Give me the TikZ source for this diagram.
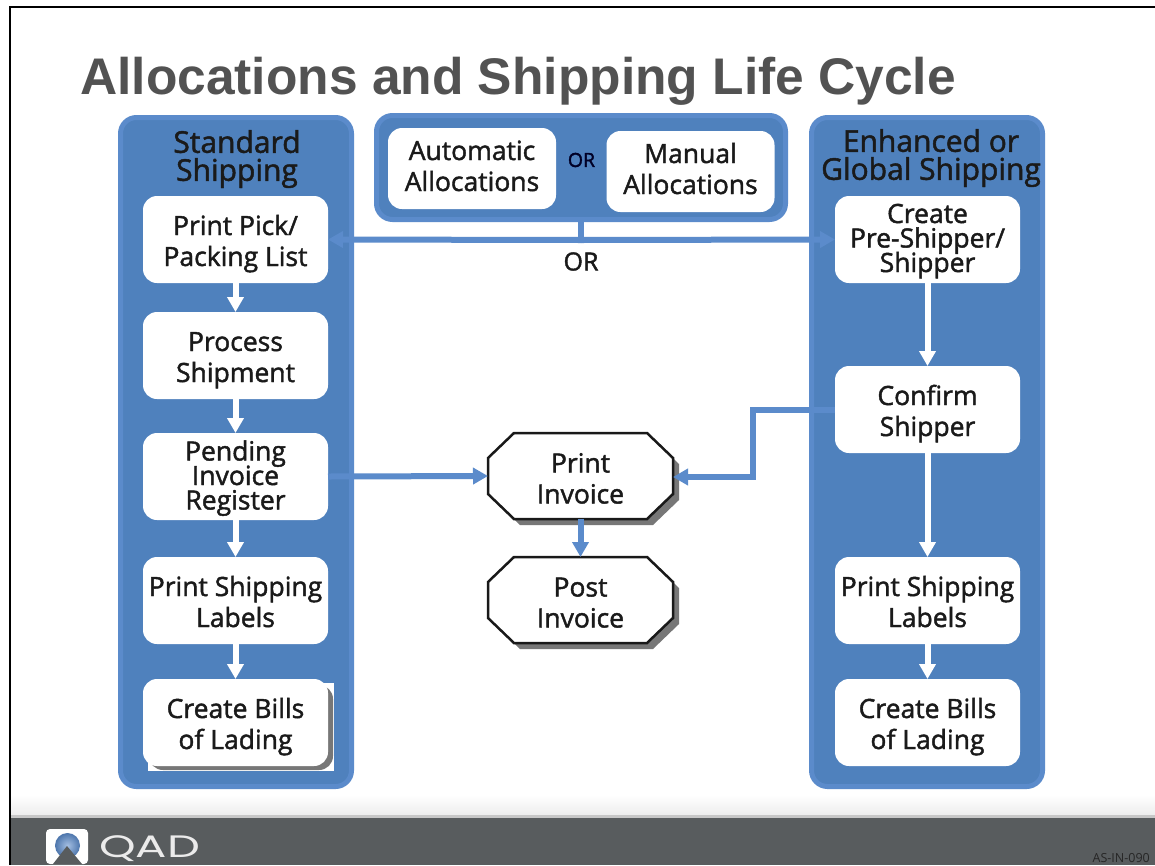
\documentclass[tikz,border=0pt]{standalone}
\usepackage{fontspec}
\usetikzlibrary{arrows.meta}
\setmainfont[FakeBold=1.6]{Open Sans}
\newfontfamily\plainfont{Open Sans}
\newfontfamily\titlefont{Liberation Sans}
\newfontfamily\logofont{Poppins}
\definecolor{panelblue}{HTML}{4F81BD}
\definecolor{edgeblue}{HTML}{5B8BCB}
\definecolor{barcol}{HTML}{585C5E}
\definecolor{inkcol}{HTML}{1A1A1A}
\definecolor{shadowgrey}{HTML}{777777}
\setlength{\normallineskiplimit}{-20pt}
\setlength{\lineskiplimit}{-20pt}
\newcommand{\hgt}[1]{\rule{0pt}{#1pt}}
\newcommand{\octapath}{(-66.5,-43) -- (66.5,-43) -- (92.5,-18) -- (92.5,18) -- (66.5,43) -- (-66.5,43) -- (-92.5,18) -- (-92.5,-18) -- cycle}
\newcommand{\octashape}[2]{%
  \begin{scope}[shift={(#1,#2)}]
    \fill[shadowgrey,shift={(6,6)}] \octapath;
    \draw[octaline] \octapath;
  \end{scope}}
\tikzset{
  x=1pt,y=-1pt,
  panel/.style={draw=edgeblue,fill=panelblue,line width=5pt,rounded corners=16pt,inner sep=0pt,outer sep=0pt},
  boxtext/.style={align=center,text=inkcol,inner sep=0pt,outer sep=0pt,font=\fontsize{26.5}{31}\selectfont,
    execute at end node={\rule[-8pt]{0pt}{0pt}}},
  whitebox/.style={boxtext,fill=white,rounded corners=14pt,minimum width=185pt,minimum height=87pt},
  tight/.style={font=\fontsize{26.5}{24.5}\selectfont},
  allocbox/.style={whitebox,minimum width=168pt,minimum height=81pt},
  octaline/.style={draw=black!90,fill=white,line width=2.5pt,line join=miter},
  octa/.style={boxtext,minimum width=185pt,minimum height=86pt},
  head/.style={align=center,text=inkcol,inner sep=0pt,font=\fontsize{30}{28}\selectfont},
  flowarrow/.style={line width=6pt,-{Triangle[width=16pt,length=15pt]}},
  whitearrow/.style={flowarrow,draw=white},
  bluearrow/.style={flowarrow,draw=edgeblue},
  blueline/.style={line width=6pt,draw=edgeblue},
}
\begin{document}
\begin{tikzpicture}
\useasboundingbox (0,0) rectangle (1155,865);
\fill[white] (0,0) rectangle (1155,865);
% footer
\shade[top color=white,bottom color=black!7] (11,795) rectangle (1155,815);
\fill[black!22] (11,815) rectangle (1155,818);
\fill[barcol] (11,818) rectangle (1155,865);
% frame
\draw[black,line width=2pt] (10,865) -- (10,7) -- (1155,7);
% logo
\fill[white,rounded corners=4pt] (46,829) rectangle (88,864);
\shade[inner color=edgeblue!55!white,outer color=edgeblue!85!black] (67.5,845.5) circle (12.5);
\fill[barcol] (53,864) -- (67,846) -- (82,864) -- cycle;
\node[inner sep=0pt,text=black!8,xscale=1.5,font=\logofont\fontsize{31}{31}\selectfont,anchor=base west] (logotext) at (99,857) {QAD};
\node[inner sep=0pt,text=black!85,font=\plainfont\fontsize{12.5}{13}\selectfont,anchor=base east] (code) at (1150,862) {AS-IN-090};
% title
\node[inner sep=0pt,anchor=base west,text=black!68,font=\titlefont\bfseries\fontsize{51.5}{52}\selectfont] (title) at (80,94) {Allocations and Shipping Life Cycle};
% panels
\node[panel,minimum width=231pt,minimum height=669pt] (leftpanel) at (236,452) {};
\node[panel,minimum width=231pt,minimum height=669pt] (rightpanel) at (927,452) {};
\node[panel,minimum width=409pt,minimum height=104pt] (toppanel) at (581,167.5) {};
\node[head] (lefthead) at (237,159) {Standard\\Shipping};
\node[head] (righthead) at (931,158) {Enhanced or\\Global Shipping};
% allocation boxes
\node[allocbox] (auto) at (472,168.5) {\hgt{22}Automatic\\Allocations};
\node[allocbox] (manual) at (690.5,171.5) {\hgt{22}Manual\\Allocations};
\node[inner sep=0pt,text=black!85!blue,font=\fontsize{19.5}{20}\selectfont] (orsmall) at (581.5,160) {OR};
% left column
\node[whitebox] (pick) at (235.5,239.5) {\hgt{30}Print Pick/\\Packing List};
\node[whitebox] (process) at (235.5,355.5) {\hgt{30}Process\\Shipment};
\node[whitebox,tight] (pending) at (235.5,476.5) {\hgt{25}Pending\\Invoice\\Register};
\node[whitebox] (labelsL) at (235.5,600.5) {\hgt{30}Print Shipping\\Labels};
\fill[white] (148,683) rectangle (334,771);
\fill[shadowgrey,rounded corners=14pt] (149,685) rectangle (333,770);
\node[whitebox] (billsL) at (235.5,722.5) {\hgt{30}Create Bills\\of Lading};
% right column
\node[whitebox,tight] (pre) at (927.5,239.5) {\hgt{24}Create\\Pre-Shipper/\\Shipper};
\node[whitebox] (confirm) at (927.5,409.5) {\hgt{30}Confirm\\Shipper};
\node[whitebox] (labelsR) at (927.5,600.5) {\hgt{30}Print Shipping\\Labels};
\node[whitebox] (billsR) at (927.5,722.5) {\hgt{30}Create Bills\\of Lading};
% invoices
\octashape{580.5}{476}
\octashape{580.5}{600}
\node[octa] (printinv) at (580.5,476) {\hgt{32}Print\\Invoice};
\node[octa] (postinv) at (580.5,600) {\hgt{32}Post\\Invoice};
% connectors
\coordinate (junction) at (581,240);
\draw[blueline] (toppanel.south -| junction) -- (junction);
\draw[bluearrow] (junction) -- (pick.east);
\draw[bluearrow] (junction) -- (pre.west);
\node[inner sep=0pt,text=inkcol,font=\fontsize{25}{25}\selectfont] (orbig) at (581,261.5) {OR};
\draw[whitearrow] (pick) -- (process);
\draw[whitearrow] (process) -- (pending);
\draw[whitearrow] (pending) -- (labelsL);
\draw[whitearrow] (labelsL) -- (billsL);
\draw[whitearrow] (pre) -- (confirm);
\draw[whitearrow] (confirm) -- (labelsR);
\draw[whitearrow] (labelsR) -- (billsR);
\draw[bluearrow] (pending.east) -- (printinv.west);
\coordinate (bendtop) at (753,409.5);
\coordinate (bendlow) at (753,477);
\draw[bluearrow] (confirm.west) -- (bendtop) -- (bendlow) -- (printinv.east |- bendlow);
\draw[bluearrow] (printinv) -- (postinv);
\end{tikzpicture}
\end{document}
